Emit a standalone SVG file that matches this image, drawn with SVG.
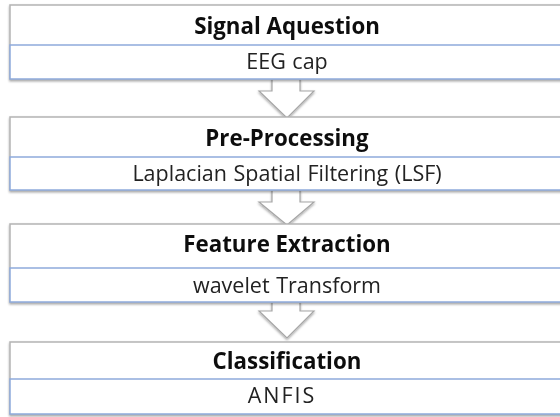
<svg xmlns="http://www.w3.org/2000/svg" width="560" height="417" viewBox="0 0 560 417">
<defs>
<filter id="sh" x="-5%" y="-20%" width="110%" height="150%">
<feDropShadow dx="0" dy="1.5" stdDeviation="1.2" flood-color="#000" flood-opacity="0.35"/>
</filter>
</defs>
<style>
.box{fill:#fff;stroke:#b4b4b4;stroke-width:1.5}
.sub{fill:#fff;stroke:#8eaadb;stroke-width:1.5}
.arr{fill:#fff;stroke:#a6a6a6;stroke-width:1.2}
.t{font-family:"Open Sans","Liberation Sans",sans-serif;font-weight:bold;font-size:22.3px;fill:#111;text-anchor:middle}
.s{font-family:"Open Sans","Liberation Sans",sans-serif;font-size:21.5px;fill:#222;text-anchor:middle;word-spacing:1px}
</style>
<g id="connectors">
<polygon class="arr" filter="url(#sh)" points="272,79 300,79 300,91 314,91 287,118 259,91 272,91"/>
<polygon class="arr" filter="url(#sh)" points="272,190 300,190 300,202 314,202 287,225 259,202 272,202"/>
<polygon class="arr" filter="url(#sh)" points="272,302 300,302 300,311 314,311 287,338 259,311 272,311"/>
</g>
<g id="node1" filter="url(#sh)">
<rect class="box" x="10" y="5" width="560" height="74"/>
<rect class="sub" x="10" y="45" width="560" height="34"/>
<text class="t" x="287" y="34">Signal Aquestion</text>
<text class="s" x="287" y="69">EEG cap</text>
</g>
<g id="node2" filter="url(#sh)">
<rect class="box" x="10" y="117" width="560" height="73"/>
<rect class="sub" x="10" y="157" width="560" height="33"/>
<text class="t" x="287" y="146">Pre-Processing</text>
<text class="s" x="287" y="181">Laplacian Spatial Filtering (LSF)</text>
</g>
<g id="node3" filter="url(#sh)">
<rect class="box" x="10" y="224" width="560" height="78"/>
<rect class="sub" x="10" y="268" width="560" height="34"/>
<text class="t" x="287" y="252">Feature Extraction</text>
<text class="s" x="287" y="293">wavelet Transform</text>
</g>
<g id="node4" filter="url(#sh)">
<rect class="box" x="10" y="342" width="560" height="72"/>
<rect class="sub" x="10" y="379" width="560" height="35"/>
<text class="t" x="287" y="369">Classification</text>
<text class="s" x="282" y="403" style="letter-spacing:2px">ANFIS</text>
</g>
</svg>
